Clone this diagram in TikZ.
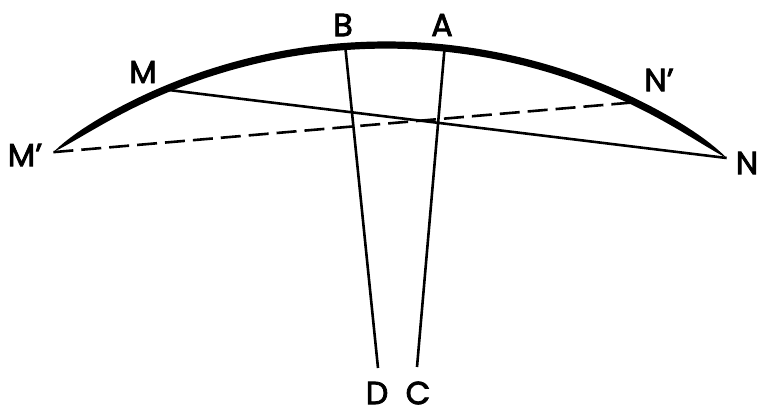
\documentclass[tikz,border=0pt]{standalone}
\usepackage{fontspec}
\setmainfont{Poppins}
\newfontfamily\lblfont[FakeBold=2.5]{Poppins}
\usepackage{tikz}
\usetikzlibrary{calc}

\begin{document}
\begin{tikzpicture}[
    x=0.5pt, y=0.5pt,
    declare function={rimw(\t)=3.6*(1-((2*(\t-53.3)/72.4-1)*(2*(\t-53.3)/72.4-1))^8);},
    lbl/.style={font=\lblfont\fontsize{16}{18}\selectfont, inner sep=0pt},
    ray/.style={line width=1.3pt},
    chord/.style={line width=1.3pt, dash pattern=on 10pt off 4pt}
]
\useasboundingbox (0,0) rectangle (759,413);
% centre of the arc
\coordinate (O) at (386,-202);
\coordinate (Mp) at ($(O)+(125.7:570)$);
\coordinate (M)  at ($(O)+(112.8:570)$);
\coordinate (B)  at ($(O)+(94.1:570)$);
\coordinate (A)  at ($(O)+(84.1:570)$);
\coordinate (Np) at ($(O)+(64.1:570)$);
\coordinate (N)  at ($(O)+(53.3:570)$);
\coordinate (D)  at (378,45);
\coordinate (C)  at (417,46);

% thick rim, thinning to the ends
\fill[shift={(O)}] plot[domain=125.7:53.3, samples=100] ({(570+rimw(\x))*cos(\x)}, {(570+rimw(\x))*sin(\x)})
  -- plot[domain=53.3:125.7, samples=100] ({(570-rimw(\x))*cos(\x)}, {(570-rimw(\x))*sin(\x)}) -- cycle;

\draw[ray] (M) -- (N);
\draw[chord] (Mp) -- (Np);
\draw[ray] (B) -- (D);
\draw[ray] (A) -- (C);

\node[lbl] (lMp) at (25,258) {M’};
\node[lbl] (lM)  at (143,341) {M};
\node[lbl] (lB)  at (343,388) {B};
\node[lbl] (lA)  at (442,388) {A};
\node[lbl] (lNp) at (659,333) {N’};
\node[lbl] (lN)  at (747,250) {N};
\node[lbl] (lD)  at (377,20) {D};
\node[lbl] (lC)  at (418,20) {C};
\end{tikzpicture}
\end{document}
